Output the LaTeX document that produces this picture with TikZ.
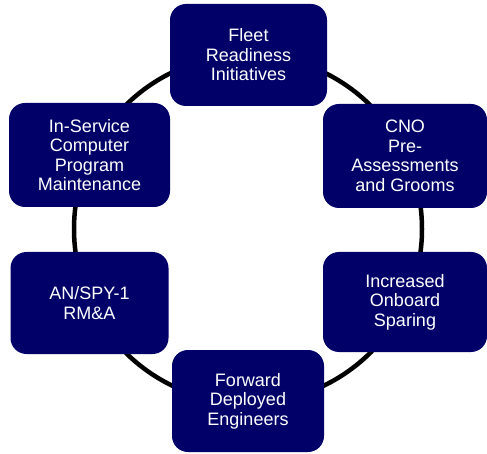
\documentclass[tikz,border=0pt]{standalone}
\usepackage{fontspec}
\setmainfont{Liberation Sans}
\usepackage{xcolor}
\definecolor{navy}{RGB}{0,0,104}

\begin{document}
\begin{tikzpicture}
  [x=1pt,y=-1pt,
   every node/.style={rectangle,rounded corners=16pt,fill=navy,text=white,
     align=center,inner sep=0pt,minimum height=102pt,
     font=\fontsize{18}{19.5}\selectfont}]
  \useasboundingbox (0,0) rectangle (487,454);

  % the ring behind the boxes
  \coordinate (hub) at (248,229);
  \draw[line width=4.5pt] (hub) circle [radius=174pt];

  \node[minimum width=157pt] (fleet)   at (248.5,55) {Fleet\\Readiness\\Initiatives};
  \node[minimum width=164pt,minimum height=104pt] (cno) at (405,156) {CNO\\Pre-\\Assessments\\and Grooms};
  \node[minimum width=164pt,minimum height=100pt] (sparing) at (405,302) {Increased\\Onboard\\Sparing};
  \node[minimum width=152pt] (forward) at (248,401) {Forward\\Deployed\\Engineers};
  \node[minimum width=158pt] (spy)     at (89.5,303) {AN/SPY-1\\RM\&A};
  \node[minimum width=161pt,minimum height=104pt] (iscpm) at (89.5,155) {In-Service\\Computer\\Program\\Maintenance};

\end{tikzpicture}
\end{document}
